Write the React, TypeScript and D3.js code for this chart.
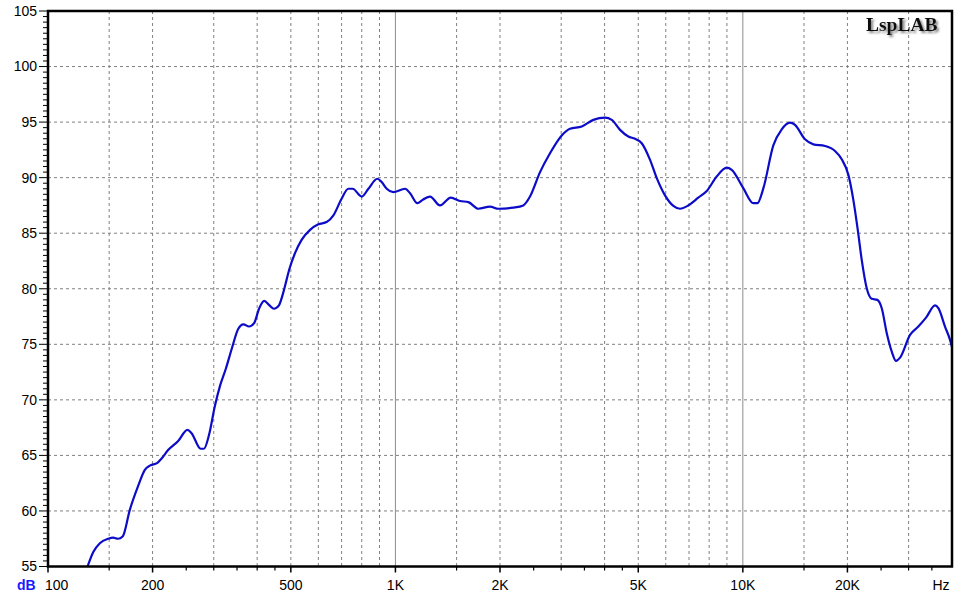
import * as d3 from 'd3';

const freqs = [
  130, 135, 141, 149, 154, 159, 164, 172, 182, 190, 197, 206, 212, 222, 237, 252, 259, 275, 281, 291,
  302, 313, 325, 338, 353, 365, 379, 392, 405, 419, 434, 447, 462, 476, 486, 495, 514, 537, 568, 600,
  634, 663, 700, 732, 753, 800, 836, 887, 913, 944, 986, 1066, 1102, 1156, 1198, 1258, 1344, 1443, 1535,
  1622, 1732, 1872, 1978, 2185, 2334, 2440, 2608, 2786, 3011, 3181, 3439, 3713, 4012, 4195, 4432, 4682,
  4894, 5117, 5407, 5653, 5970, 6310, 6596, 6967, 7444, 7873, 8411, 8988, 9290, 10030, 10720, 11010,
  11460, 12240, 12940, 13670, 14130, 15100, 15960, 17240, 18420, 19260, 20130, 20800, 21420, 21990,
  22730, 23500, 24380, 25110, 25960, 26830, 27610, 28350, 30290, 32000, 33680, 35750, 36540, 38190,
  39480, 40190,
];

const levels = [
  55.0, 56.3, 57.1, 57.5, 57.6, 57.5, 57.7, 60.1, 62.3, 63.7, 64.1, 64.3, 64.7, 65.5, 66.3, 67.3, 67.0,
  65.6, 65.6, 66.9, 69.4, 71.3, 72.8, 74.6, 76.4, 76.8, 76.6, 76.9, 78.2, 78.9, 78.5, 78.2, 78.5, 79.7,
  80.8, 81.75, 83.2, 84.4, 85.3, 85.8, 86.0, 86.6, 88.1, 89.0, 89.0, 88.3, 89.0, 89.9, 89.6, 89.0, 88.7,
  89.0, 88.6, 87.7, 88.0, 88.3, 87.5, 88.2, 87.9, 87.8, 87.2, 87.4, 87.2, 87.3, 87.5, 88.3, 90.5, 92.2,
  93.8, 94.4, 94.6, 95.2, 95.4, 95.2, 94.3, 93.7, 93.5, 93.1, 91.6, 89.95, 88.4, 87.45, 87.2, 87.5, 88.2,
  88.8, 90.1, 90.9, 90.7, 89.05, 87.7, 87.7, 89.05, 92.9, 94.35, 94.95, 94.75, 93.45, 93.0, 92.85, 92.4,
  91.65, 90.25, 88.0, 85.3, 82.6, 80.05, 79.1, 79.0, 78.25, 76.0, 74.35, 73.5, 73.8, 75.85, 76.6, 77.4,
  78.5, 78.25, 76.6, 75.4, 74.5,
];

const dashedGrid = [
  150, 200, 300, 400, 500, 600, 700, 800, 900, 1500, 2000, 3000, 4000, 5000, 6000, 7000, 8000, 9000,
  15000, 20000, 30000,
];
const solidGrid = [1000, 10000];
const xLabels = [
  { f: 200, text: '200' },
  { f: 500, text: '500' },
  { f: 1000, text: '1K' },
  { f: 2000, text: '2K' },
  { f: 5000, text: '5K' },
  { f: 10000, text: '10K' },
  { f: 20000, text: '20K' },
];
const xMajorTicks = [100, 200, 500, 1000, 2000, 5000, 10000, 20000];
const xMinorTicks = [150, 250, 300, 350, 400, 450, 1500, 2500, 3000, 3500, 4000, 4500, 15000, 25000, 30000, 35000];
const yLabels = [55, 60, 65, 70, 75, 80, 85, 90, 95, 100, 105];

const W = 957;
const H = 596;
const left = 48;
const right = 952;
const top = 11;
const bottom = 566.5;

const font = '"Liberation Sans", Arial, sans-serif';

export default function App() {
  const x = d3.scaleLog().domain([100, 40000]).range([left, right]);
  const y = d3.scaleLinear().domain([55, 105]).range([bottom, top]);

  const pts = freqs.map((f, i) => [f, levels[i]] as [number, number]);
  const line = d3
    .line<[number, number]>()
    .x((d) => x(d[0]))
    .y((d) => y(d[1]))
    .curve(d3.curveMonotoneX);

  const yMinor = d3.range(55, 105.01, 0.5);

  return (
    <svg
      width={W}
      height={H}
      style={{ position: 'absolute', left: 0, top: 0, background: '#fff' }}
    >
      <defs>
        <clipPath id="plot">
          <rect x={left} y={top} width={right - left} height={bottom - top} />
        </clipPath>
        <filter id="shadow" x="-10%" y="-30%" width="130%" height="180%">
          <feDropShadow dx={2} dy={2} stdDeviation={0.8} floodColor="#777" floodOpacity={0.9} />
        </filter>
      </defs>
      <rect x={0} y={0} width={W} height={H} fill="#fff" />

      {/* horizontal grid */}
      {yLabels.slice(1, -1).map((v) => (
        <line key={'h' + v} x1={left} x2={right} y1={y(v)} y2={y(v)} stroke="#808080" strokeDasharray="3,3" />
      ))}
      {/* vertical grid */}
      {dashedGrid.map((f) => (
        <line key={'v' + f} x1={x(f)} x2={x(f)} y1={top} y2={bottom} stroke="#808080" strokeDasharray="3,3" />
      ))}
      {solidGrid.map((f) => (
        <line key={'s' + f} x1={x(f)} x2={x(f)} y1={top} y2={bottom} stroke="#8c8c8c" />
      ))}

      {/* curve */}
      <path
        d={line(pts) ?? ''}
        fill="none"
        stroke="#0c0cc8"
        strokeWidth={2.2}
        strokeLinejoin="round"
        clipPath="url(#plot)"
      />

      {/* frame */}
      <rect x={left} y={top} width={right - left} height={bottom - top} fill="none" stroke="#000" strokeWidth={2.5} />

      {/* y ticks */}
      {yMinor.map((v) => (
        <line
          key={'yt' + v}
          x1={left - (v % 5 === 0 ? 9 : 5)}
          x2={left}
          y1={y(v)}
          y2={y(v)}
          stroke="#000"
        />
      ))}
      {yLabels.map((v) => (
        <text
          key={'yl' + v}
          x={37}
          y={y(v)}
          dy="0.35em"
          textAnchor="end"
          fontFamily={font}
          fontSize={14}
          fill="#000"
        >
          {v}
        </text>
      ))}

      {/* x ticks */}
      {xMajorTicks.map((f) => (
        <line key={'xM' + f} x1={x(f)} x2={x(f)} y1={bottom} y2={bottom + 6} stroke="#000" strokeWidth={1.5} />
      ))}
      {xMinorTicks.map((f) => (
        <line key={'xm' + f} x1={x(f)} x2={x(f)} y1={bottom} y2={bottom + 4} stroke="#000" strokeWidth={1.2} />
      ))}
      <text x={45} y={590} fontFamily={font} fontSize={14} fill="#000">
        100
      </text>
      {xLabels.map((d) => (
        <text key={'xl' + d.f} x={x(d.f)} y={590} textAnchor="middle" fontFamily={font} fontSize={14} fill="#000">
          {d.text}
        </text>
      ))}
      <text x={941} y={590} textAnchor="middle" fontFamily={font} fontSize={14} fill="#000">
        Hz
      </text>
      <text x={17} y={590} fontFamily={font} fontSize={14} fontWeight="bold" fill="#1a1aff">
        dB
      </text>

      {/* brand */}
      <text
        x={866}
        y={31}
        fontFamily='"Liberation Serif", "Times New Roman", serif'
        fontSize={19.5}
        fontWeight="bold"
        fill="#111"
        filter="url(#shadow)"
      >
        LspLAB
      </text>
    </svg>
  );
}
